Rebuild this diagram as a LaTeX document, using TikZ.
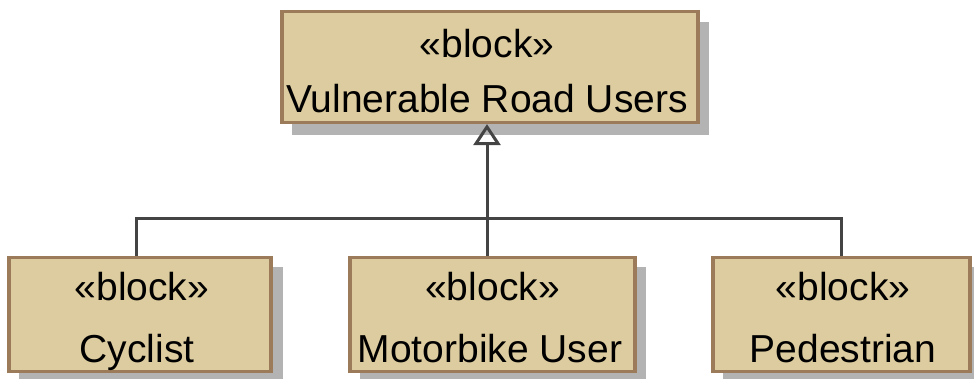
\documentclass[tikz,border=0pt]{standalone}
\usepackage{fontspec}
\setmainfont{Liberation Sans}
\usetikzlibrary{arrows.meta,positioning}
\definecolor{blockfill}{HTML}{DDCC9F}
\definecolor{blockedge}{HTML}{9C7B5A}
\definecolor{blockshade}{HTML}{B3B3B3}
\definecolor{wire}{HTML}{444444}
\tikzset{
  block/.style={draw=blockedge, line width=3.2pt, fill=blockfill, inner sep=0pt},
  caption/.style={anchor=base, inner sep=0pt, font=\fontsize{39}{45}\selectfont},
  shade/.style={fill=blockshade, draw=none},
  wireline/.style={draw=wire, line width=3pt},
  gen/.style={-{Triangle[open, length=21pt, width=27pt, line width=3pt]}}
}
\begin{document}
\begin{tikzpicture}[x=1pt, y=-1pt]
\useasboundingbox (0,0) rectangle (974,378);
% drop shadows
\fill[shade] (292,22) rectangle (709,135);
\fill[shade] (19,267) rectangle (283,381);
\fill[shade] (360,267) rectangle (646,381);
\fill[shade] (723,267) rectangle (980,381);
% blocks
\node[block, minimum width=416pt, minimum height=111pt] (vru) at (490,67) {};
\node[block, minimum width=262pt, minimum height=114pt] (cyc) at (140,314.5) {};
\node[block, minimum width=285pt, minimum height=114pt] (mot) at (492.5,314.5) {};
\node[block, minimum width=257pt, minimum height=114pt] (ped) at (841.5,314.5) {};
% block captions
\node[caption] (vrus) at (487,57) {«block»};
\node[caption] (vrun) at (487,112) {Vulnerable Road Users};
\node[caption] (cycs) at (142,300) {«block»};
\node[caption] (cycn) at (137,362) {Cyclist};
\node[caption] (mots) at (492.5,300) {«block»};
\node[caption] (motn) at (490,362) {Motorbike User};
\node[caption] (peds) at (843,300) {«block»};
\node[caption] (pedn) at (843,362) {Pedestrian};
% generalisation tree
\coordinate (jn) at (487,218);
\draw[wireline] ([xshift=-4pt]cyc.north) |- (jn) -| (ped.north);
\draw[wireline] ([xshift=-5.5pt]mot.north) -- (jn);
\draw[wireline, gen] (jn) -- ([xshift=-3pt]vru.south);
\end{tikzpicture}
\end{document}
